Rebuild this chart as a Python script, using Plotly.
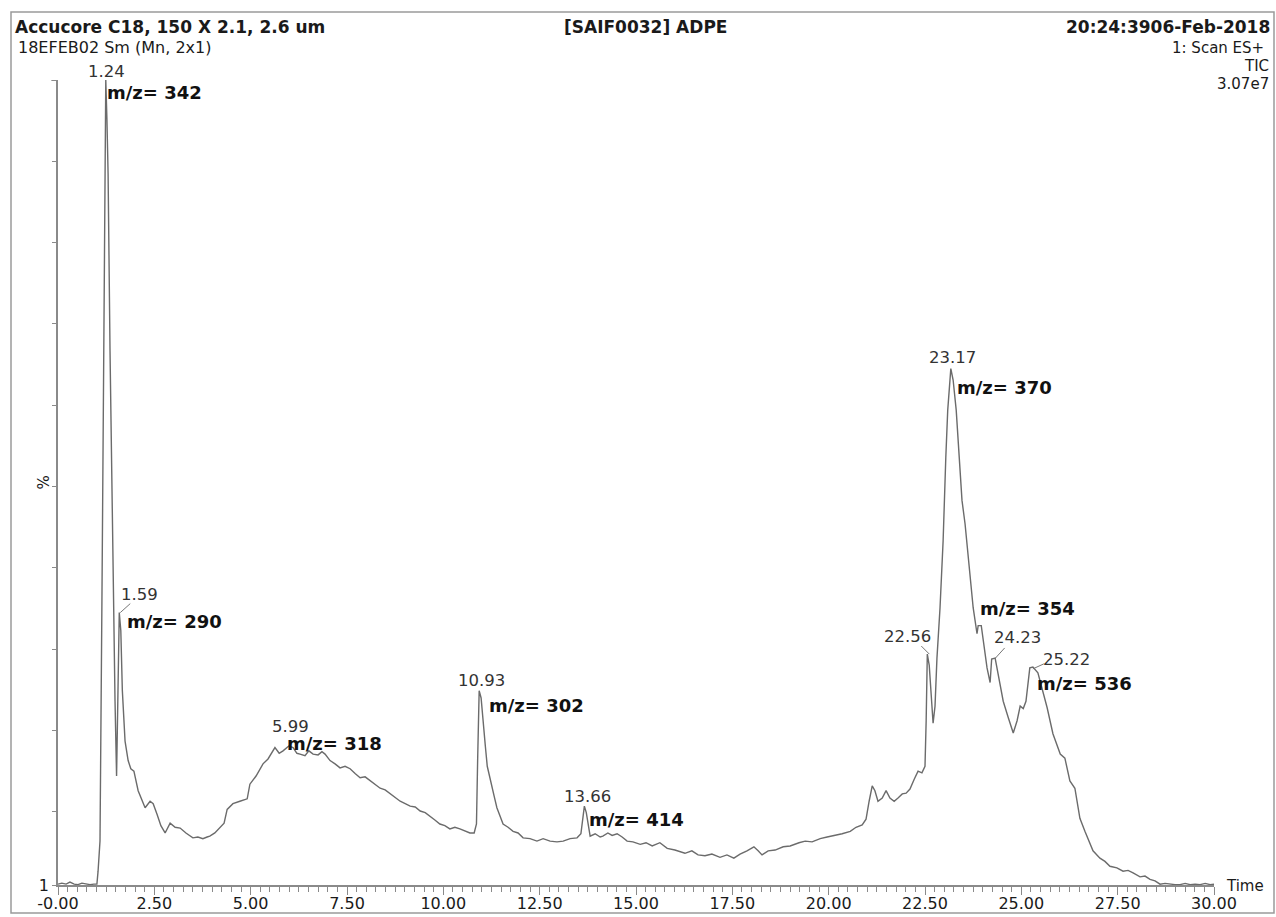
import numpy as np
import plotly.graph_objects as go

# ---------------- data (retention time in min, relative intensity in %) -------------
times = [
    0.00, 0.10, 0.21, 0.31, 0.42, 0.52, 0.62, 0.73, 0.83, 0.93,
    1.01, 1.04, 1.09, 1.14, 1.17, 1.19, 1.22, 1.24, 1.27, 1.30,
    1.35, 1.38, 1.43, 1.48, 1.52, 1.56, 1.59, 1.63, 1.67, 1.74,
    1.82, 1.89, 1.97, 2.08, 2.26, 2.39, 2.47, 2.57, 2.67, 2.78,
    2.91, 3.04, 3.17, 3.32, 3.50, 3.63, 3.76, 3.87, 3.94, 4.07,
    4.20, 4.31, 4.39, 4.54, 4.72, 4.91, 4.98, 5.14, 5.32, 5.45,
    5.63, 5.74, 5.84, 5.99, 6.10, 6.20, 6.28, 6.41, 6.51, 6.62,
    6.75, 6.85, 6.93, 7.06, 7.19, 7.32, 7.45, 7.58, 7.71, 7.84,
    7.97, 8.10, 8.23, 8.36, 8.49, 8.62, 8.75, 8.88, 9.01, 9.14,
    9.27, 9.40, 9.53, 9.65, 9.78, 9.91, 10.04, 10.17, 10.30, 10.43,
    10.56, 10.69, 10.80, 10.86, 10.89, 10.93, 10.98, 11.04, 11.09, 11.14,
    11.22, 11.32, 11.39, 11.47, 11.55, 11.68, 11.81, 11.94, 12.07, 12.25,
    12.43, 12.59, 12.77, 12.95, 13.11, 13.29, 13.47, 13.57, 13.62, 13.66,
    13.71, 13.76, 13.81, 13.94, 14.07, 14.14, 14.27, 14.38, 14.51, 14.64,
    14.77, 14.92, 15.11, 15.26, 15.42, 15.62, 15.81, 16.01, 16.27, 16.45,
    16.61, 16.79, 16.97, 17.18, 17.36, 17.54, 17.70, 17.88, 18.06, 18.17,
    18.27, 18.43, 18.61, 18.82, 19.00, 19.23, 19.39, 19.57, 19.78, 19.96,
    20.17, 20.35, 20.56, 20.71, 20.87, 20.97, 21.05, 21.13, 21.20, 21.28,
    21.39, 21.49, 21.59, 21.70, 21.80, 21.91, 22.01, 22.11, 22.22, 22.32,
    22.42, 22.50, 22.53, 22.56, 22.61, 22.66, 22.71, 22.76, 22.81, 22.89,
    22.97, 23.04, 23.09, 23.17, 23.23, 23.31, 23.39, 23.46, 23.54, 23.62,
    23.75, 23.85, 23.88, 23.96, 24.01, 24.11, 24.19, 24.23, 24.32, 24.40,
    24.53, 24.66, 24.79, 24.89, 24.97, 25.05, 25.12, 25.22, 25.30, 25.43,
    25.54, 25.67, 25.82, 26.01, 26.13, 26.26, 26.39, 26.52, 26.65, 26.86,
    27.04, 27.17, 27.30, 27.48, 27.64, 27.77, 27.90, 28.08, 28.21, 28.34,
    28.47, 28.60, 28.73, 28.86, 28.99, 29.12, 29.25, 29.38, 29.51, 29.64,
    29.77, 29.90, 30.00,
]
intensity = [
    1.11, 1.23, 1.11, 1.35, 1.11, 1.05, 1.23, 1.11, 1.05, 1.11,
    1.11, 2.7, 6.4, 36.0, 55.7, 79.1, 91.4, 100.0, 95.1, 88.5,
    66.7, 55.7, 40.9, 23.6, 14.4, 23.6, 34.5, 32.3, 24.9, 18.7,
    16.3, 15.3, 15.0, 12.6, 10.5, 11.3, 11.0, 9.7, 8.3, 7.4,
    8.6, 8.1, 8.0, 7.4, 6.8, 6.9, 6.7, 6.9, 7.0, 7.4,
    8.0, 8.6, 10.3, 11.0, 11.3, 11.6, 13.4, 14.4, 15.9, 16.5,
    17.9, 17.2, 17.5, 18.1, 17.9, 17.2, 17.1, 16.9, 17.5, 17.1,
    17.0, 17.4, 17.1, 16.3, 15.9, 15.4, 15.6, 15.3, 14.7, 14.2,
    14.3, 13.8, 13.3, 12.9, 12.7, 12.2, 11.8, 11.3, 11.0, 10.7,
    10.6, 10.1, 9.9, 9.5, 9.0, 8.5, 8.3, 7.9, 8.1, 7.9,
    7.6, 7.4, 7.4, 8.5, 16.3, 24.9, 24.0, 21.2, 18.1, 15.6,
    13.8, 11.9, 10.5, 9.5, 8.5, 8.1, 7.6, 7.4, 6.8, 6.7,
    6.4, 6.7, 6.4, 6.3, 6.4, 6.7, 6.8, 7.3, 8.9, 10.7,
    9.9, 8.6, 7.0, 7.3, 6.9, 7.0, 7.4, 7.1, 7.3, 6.9,
    6.4, 6.3, 6.0, 6.2, 5.8, 6.2, 5.5, 5.3, 4.9, 5.2,
    4.7, 4.6, 4.8, 4.4, 4.7, 4.3, 4.8, 5.2, 5.7, 5.2,
    4.7, 5.2, 5.3, 5.7, 5.8, 6.2, 6.4, 6.3, 6.7, 6.9,
    7.1, 7.3, 7.6, 8.1, 8.4, 9.1, 11.3, 13.2, 12.6, 11.3,
    11.7, 12.6, 11.7, 11.3, 11.7, 12.2, 12.3, 12.8, 14.0, 15.0,
    14.8, 15.6, 21.2, 29.4, 28.0, 23.6, 20.9, 23.0, 28.9, 35.1,
    43.3, 53.6, 59.4, 64.5, 63.1, 59.4, 53.6, 48.3, 45.4, 41.3,
    35.1, 31.9, 32.9, 32.9, 31.0, 27.7, 25.9, 28.8, 28.9, 27.0,
    23.6, 21.6, 19.7, 21.2, 23.0, 22.7, 23.6, 27.7, 27.8, 27.1,
    25.2, 22.8, 19.6, 17.1, 16.6, 13.8, 12.9, 9.2, 7.6, 5.2,
    4.3, 3.9, 3.3, 3.1, 2.7, 2.8, 2.5, 2.0, 2.1, 1.7,
    1.5, 1.1, 1.2, 1.1, 1.05, 1.05, 1.2, 1.05, 1.1, 1.05,
    1.2, 1.05, 1.1,
]

# labelled peaks (retention times) and m/z annotations
peak_rt = [1.24, 1.59, 5.99, 10.93, 13.66, 22.56, 23.17, 24.23, 25.22]
mz_values = [342, 290, 318, 302, 414, 370, 354, 536]
mz_rt = [1.24, 1.59, 5.99, 10.93, 13.66, 23.17, 23.88, 25.22]

x_tickvals = [0, 2.5, 5, 7.5, 10, 12.5, 15, 17.5, 20, 22.5, 25, 27.5, 30]
x_ticktext = ["-0.00", "2.50", "5.00", "7.50", "10.00", "12.50", "15.00",
              "17.50", "20.00", "22.50", "25.00", "27.50", "30.00"]
y_tickvals = [1, 10, 20, 30, 40, 50, 60, 70, 80, 90, 100]
y_ticktext = ["1", "", "", "", "", "", "", "", "", "", ""]

# ---------------- styling (pixel offsets for labels) ----------------
peak_label_shift = {1.24: (1, 9), 1.59: (20, 18), 5.99: (2, 19), 10.93: (2, 10),
                    13.66: (3, 10), 22.56: (-20, 18), 23.17: (2, 11),
                    24.23: (26, 21), 25.22: (37, 8)}
peak_leaders = {1.59: (1, 0, 11, 9), 22.56: (2, 0, -6, 8),
                24.23: (3, 0, 13, 11), 25.22: (3, -1, 14, 4)}
mz_shift = {342: (-1, -12), 290: (6, -9), 318: (-4, 2), 302: (8, -15),
            414: (3, -13), 370: (4, -19), 354: (0, 17), 536: (5, -16)}

FONT = "DejaVu Sans"
AX = "#8a8a8a"
TXT = "#1a1a1a"

fig = go.Figure()
fig.add_trace(go.Scatter(x=times, y=intensity, mode="lines",
                         line=dict(color="#6b6b6b", width=1.4),
                         hoverinfo="skip", showlegend=False))

annotations = []
shapes = []


def val_at(t):
    return float(np.interp(t, times, intensity))


for t in peak_rt:
    dx, dy = peak_label_shift[t]
    annotations.append(dict(x=t, y=val_at(t), xref="x", yref="y", text=f"{t:.2f}",
                            showarrow=False, xshift=dx, yshift=dy,
                            xanchor="center", yanchor="middle",
                            font=dict(family=FONT, size=16.5, color="#333333")))
    if t in peak_leaders:
        a, b, c, d = peak_leaders[t]
        shapes.append(dict(type="line", xref="x", yref="y", xsizemode="pixel",
                           ysizemode="pixel", xanchor=t, yanchor=val_at(t),
                           x0=a, y0=b, x1=c, y1=d,
                           line=dict(color="#777777", width=1)))

for mz, t in zip(mz_values, mz_rt):
    dx, dy = mz_shift[mz]
    annotations.append(dict(x=t, y=val_at(t), xref="x", yref="y", text=f"m/z= {mz}",
                            showarrow=False, xshift=dx, yshift=dy,
                            xanchor="left", yanchor="middle",
                            font=dict(family=FONT, size=18, color="#111111",
                                      weight="bold")))

# header texts
hdr = [
    ("Accucore C18, 150 X 2.1, 2.6 um", 0, -45, 53, "left", 17, "bold"),
    ("18EFEB02 Sm (Mn, 2x1)", 0, -42, 33, "left", 16, "normal"),
    ("[SAIF0032] ADPE", 0.508, 0, 53, "center", 17, "bold"),
    ("20:24:3906-Feb-2018", 1, 58, 53, "right", 17, "bold"),
    ("1: Scan ES+", 1, 52, 32, "right", 15, "normal"),
    ("TIC", 1, 57, 14, "right", 15, "normal"),
    ("3.07e7", 1, 57, -4, "right", 15, "normal"),
]
for text, x, xs, ys, anc, size, w in hdr:
    annotations.append(dict(x=x, y=1, xref="paper", yref="paper", text=text,
                            showarrow=False, xshift=xs, yshift=ys, xanchor=anc,
                            yanchor="middle",
                            font=dict(family=FONT, size=size, color=TXT, weight=w)))

annotations.append(dict(x=1, y=0, xref="paper", yref="paper", text="Time",
                        showarrow=False, xshift=10, yshift=-1, xanchor="left",
                        yanchor="middle", font=dict(family=FONT, size=15, color=TXT)))
annotations.append(dict(x=0, y=50, xref="paper", yref="y", text="%",
                        showarrow=False, xshift=-14, yshift=4, xanchor="center",
                        yanchor="middle", textangle=-90,
                        font=dict(family=FONT, size=15, color=TXT)))

# longer top tick on y axis
shapes.append(dict(type="line", xref="paper", yref="y", xsizemode="pixel",
                   xanchor=0, x0=-7, x1=0, y0=100, y1=100,
                   line=dict(color=AX, width=1.3)))
# outer frame
shapes.append(dict(type="rect", xref="paper", yref="paper",
                   x0=(11 - 58) / 1156, x1=(1274 - 58) / 1156,
                   y0=(885 - 913) / 805, y1=(885 - 12) / 805,
                   line=dict(color="#9a9a9a", width=1.5)))

fig.update_layout(
    width=1276, height=917, autosize=False,
    margin=dict(l=58, r=62, t=80, b=32),
    paper_bgcolor="white", plot_bgcolor="white",
    font=dict(family=FONT, color=TXT),
    showlegend=False,
    annotations=annotations, shapes=shapes,
    xaxis=dict(range=[0, 30], showgrid=False, zeroline=False, showline=True,
               automargin=False,
               linecolor=AX, linewidth=1.5, ticks="outside", ticklen=8,
               tickwidth=1.2, tickcolor=AX, tickmode="array",
               tickvals=x_tickvals, ticktext=x_ticktext, ticklabelstandoff=-5,
               tickfont=dict(family=FONT, size=16, color=TXT),
               minor=dict(tickmode="linear", tick0=0, dtick=0.25,
                          ticks="outside", ticklen=5, tickcolor=AX, tickwidth=1)),
    yaxis=dict(range=[1, 100], showgrid=False, zeroline=False, showline=True,
               automargin=False,
               linecolor=AX, linewidth=1.5, ticks="outside", ticklen=4,
               tickwidth=1.2, tickcolor=AX, tickmode="array",
               tickvals=y_tickvals, ticktext=y_ticktext,
               tickfont=dict(family=FONT, size=16, color=TXT)),
)

fig.write_html("out.html", config={"displayModeBar": False},
               post_script="document.body.style.margin='0px';"
                           "document.body.style.overflow='hidden';")
